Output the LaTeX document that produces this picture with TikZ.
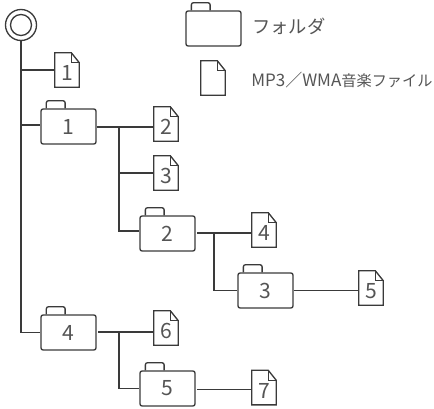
\documentclass[tikz,border=0pt]{standalone}
\usepackage{fontspec}
\setmainfont{Noto Sans CJK JP}
\usepackage{tikz}
\definecolor{inkline}{HTML}{3A3A3A}
\definecolor{inktext}{HTML}{555555}
\tikzset{
    link/.style={inkline, line width=0.95pt},
    gaplink/.style={link, shorten <=1pt},
    foldernode/.style={draw=inkline, line width=0.95pt, rounded corners=1.5pt, inner sep=0pt,
        minimum width=1.375cm, minimum height=0.875cm, text=inktext,
        font=\fontsize{15}{15}\selectfont,
        append after command={\pgfextra{
            \draw[link, rounded corners=1.5pt] ([xshift=0.15cm]\tikzlastnode.north west) -- ++(0,0.19) -- ++(0.47,0) -- ++(0,-0.19);
        }}},
    filenode/.style={inner sep=0pt, minimum width=0.6cm, minimum height=0.85cm, text=inktext,
        font=\fontsize{15}{15}\selectfont, text height=0.54cm, text depth=0cm,
        append after command={\pgfextra{
            \draw[link, line join=miter] (\tikzlastnode.north west) -- ([xshift=-0.2cm]\tikzlastnode.north east)
                -- ([yshift=-0.25cm]\tikzlastnode.north east) -- (\tikzlastnode.south east)
                -- (\tikzlastnode.south west) -- cycle;
            \draw[link] ([xshift=-0.2cm]\tikzlastnode.north east) -- ++(0,-0.25) -- ([yshift=-0.25cm]\tikzlastnode.north east);
        }}},
    legendtext/.style={inner sep=0pt, text=inktext, anchor=west}
}

\begin{document}
\begin{tikzpicture}
    \useasboundingbox (0,0) rectangle (10.85,-10.225);

    % drive
    \node[draw=inkline, line width=0.95pt, circle, inner sep=0pt, minimum size=0.775cm] (root) at (0.525,-0.625) {};
    \node[draw=inkline, line width=0.95pt, circle, inner sep=0pt, minimum size=0.525cm] (rootinner) at (0.525,-0.625) {};

    % legend
    \node[foldernode] (legendfolder) at (5.3375,-0.7125) {};
    \node[filenode] (legendfile) at (5.325,-1.95) {};
    \node[legendtext, font=\fontsize{13}{14}\selectfont] (legendfoldertext) at (6.3,-0.65) {フォルダ};
    \node[legendtext] (legendfiletext) at (6.275,-2.0) {{\fontsize{12.1}{12}\selectfont MP3／WMA}{\fontsize{10.8}{12}\selectfont 音楽ファイル}};

    % folders
    \node[foldernode] (folderA) at (1.7125,-3.1625) {1};
    \node[foldernode] (folderB) at (4.1875,-5.8375) {2};
    \node[foldernode] (folderC) at (6.6375,-7.2625) {3};
    \node[foldernode] (folderD) at (1.7125,-8.3125) {4};
    \node[foldernode] (folderE) at (4.1875,-9.7125) {5};

    % files
    \node[filenode] (fileA) at (1.675,-1.75) {1};
    \node[filenode] (fileB) at (4.15,-3.1) {2};
    \node[filenode] (fileC) at (4.15,-4.325) {3};
    \node[filenode] (fileD) at (6.6,-5.75) {4};
    \node[filenode] (fileE) at (9.275,-7.2) {5};
    \node[filenode] (fileF) at (4.15,-8.2) {6};
    \node[filenode] (fileG) at (6.6,-9.69) {7};

    % branch points
    \coordinate (forkA) at (2.975,-3.175);
    \coordinate (forkB) at (5.35,-5.825);
    \coordinate (forkD) at (2.975,-8.3);

    % trunk
    \draw[link] (root.south) |- (fileA.west);
    \draw[link] (root.south) |- ([yshift=0.04cm]folderA.west);
    \draw[link] (root.south) |- (folderD.west);

    % folder 1
    \draw[link] (folderA.east |- forkA) -- (fileB.west |- forkA);
    \draw[link] (forkA) |- (fileC.west);
    \draw[link] (forkA) |- ([yshift=0.06cm]folderB.west);

    % folder 2
    \draw[gaplink] (folderB.east |- forkB) -- (fileD.west |- forkB);
    \draw[link] (forkB) |- (folderC.west);
    \draw[link] (folderC.east) -- (fileE.west |- folderC.east);

    % folder 4
    \draw[gaplink] (folderD.east |- forkD) -- (fileF.west |- forkD);
    \draw[link] (forkD) |- (folderE.west);
    \draw[gaplink] ([yshift=-0.03cm]folderE.east) -- ([yshift=-0.03cm]fileG.west |- folderE.east);
\end{tikzpicture}
\end{document}
